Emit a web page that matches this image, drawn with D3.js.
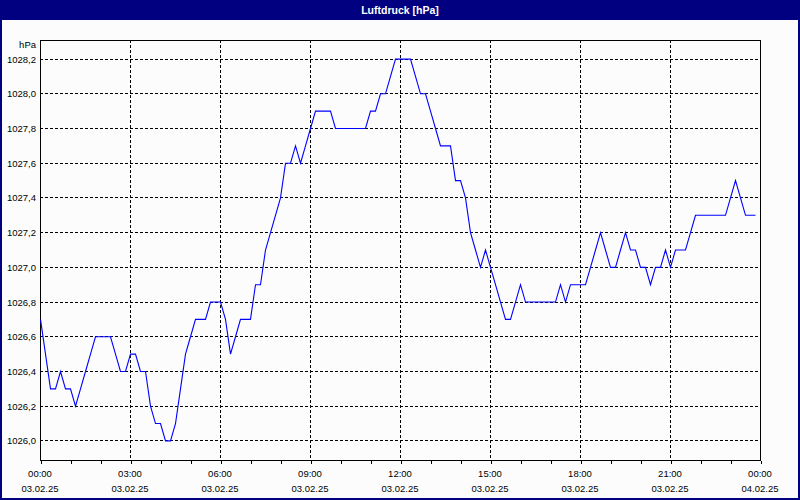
<!DOCTYPE html>
<html>
<head>
<meta charset="utf-8">
<script src="https://cdn.jsdelivr.net/npm/d3@7"></script>
<style>
  html, body { margin: 0; padding: 0; background: #fcfcfc; }
  svg { display: block; }
  text { font-family: "Liberation Sans", Arial, sans-serif; }
</style>
</head>
<body>
<svg id="chart" width="800" height="500"></svg>
<script>
// ---- data ----
const chartTitle = "Luftdruck [hPa]";
const unitLabel = "hPa";
const startTime = "2025-02-03T00:00:00";
const endTime = "2025-02-04T00:00:00";
const sampleMinutes = 10;
const pressure = [
  1026.7, 1026.5, 1026.3, 1026.3, 1026.4, 1026.3, 1026.3, 1026.2, 1026.3, 1026.4,
  1026.5, 1026.6, 1026.6, 1026.6, 1026.6, 1026.5, 1026.4, 1026.4, 1026.5, 1026.5,
  1026.4, 1026.4, 1026.2, 1026.1, 1026.1, 1026.0, 1026.0, 1026.1, 1026.3, 1026.5,
  1026.6, 1026.7, 1026.7, 1026.7, 1026.8, 1026.8, 1026.8, 1026.7, 1026.5, 1026.6,
  1026.7, 1026.7, 1026.7, 1026.9, 1026.9, 1027.1, 1027.2, 1027.3, 1027.4, 1027.6,
  1027.6, 1027.7, 1027.6, 1027.7, 1027.8, 1027.9, 1027.9, 1027.9, 1027.9, 1027.8,
  1027.8, 1027.8, 1027.8, 1027.8, 1027.8, 1027.8, 1027.9, 1027.9, 1028.0, 1028.0,
  1028.1, 1028.2, 1028.2, 1028.2, 1028.2, 1028.1, 1028.0, 1028.0, 1027.9, 1027.8,
  1027.7, 1027.7, 1027.7, 1027.5, 1027.5, 1027.4, 1027.2, 1027.1, 1027.0, 1027.1,
  1027.0, 1026.9, 1026.8, 1026.7, 1026.7, 1026.8, 1026.9, 1026.8, 1026.8, 1026.8,
  1026.8, 1026.8, 1026.8, 1026.8, 1026.9, 1026.8, 1026.9, 1026.9, 1026.9, 1026.9,
  1027.0, 1027.1, 1027.2, 1027.1, 1027.0, 1027.0, 1027.1, 1027.2, 1027.1, 1027.1,
  1027.0, 1027.0, 1026.9, 1027.0, 1027.0, 1027.1, 1027.0, 1027.1, 1027.1, 1027.1,
  1027.2, 1027.3, 1027.3, 1027.3, 1027.3, 1027.3, 1027.3, 1027.3, 1027.4, 1027.5,
  1027.4, 1027.3, 1027.3, 1027.3
];
const yTicks = [1026.0, 1026.2, 1026.4, 1026.6, 1026.8, 1027.0, 1027.2, 1027.4, 1027.6, 1027.8, 1028.0, 1028.2];
const yDomain = [1025.89, 1028.31];
const xTickHours = [0, 3, 6, 9, 12, 15, 18, 21, 24];

// ---- layout ----
const W = 800, H = 500;
const plot = { left: 40, top: 40, right: 760, bottom: 460 };
const svg = d3.select("#chart");

const t0 = new Date(startTime), t1 = new Date(endTime);
const x = d3.scaleTime().domain([t0, t1]).range([plot.left, plot.right]);
const y = d3.scaleLinear().domain(yDomain).range([plot.bottom, plot.top]);
const px = v => Math.round(v) + 0.5;

const data = pressure.map((v, i) => ({ t: d3.timeMinute.offset(t0, i * sampleMinutes), v }));

// window background & border
svg.append("rect").attr("x", 0).attr("y", 0).attr("width", W).attr("height", H).attr("fill", "#fcfcfc");
svg.append("rect").attr("x", 1).attr("y", 1).attr("width", W - 2).attr("height", H - 2)
  .attr("fill", "none").attr("stroke", "#000080").attr("stroke-width", 2);

// title bar
svg.append("rect").attr("x", 0).attr("y", 0).attr("width", W).attr("height", 20).attr("fill", "#000080");
svg.append("text").attr("x", W / 2).attr("y", 13.5).attr("text-anchor", "middle")
  .attr("fill", "#ffffff").attr("font-weight", "bold").attr("font-size", "10.5px").text(chartTitle);

// horizontal grid
const g = svg.append("g");
g.selectAll("line.hg").data(yTicks).enter().append("line")
  .attr("x1", plot.left).attr("x2", plot.right)
  .attr("y1", d => px(y(d) - 0.5)).attr("y2", d => px(y(d) - 0.5))
  .attr("stroke", "#000").attr("stroke-width", 1).attr("stroke-dasharray", "3,2")
  .attr("shape-rendering", "crispEdges");

// vertical grid
const vTimes = xTickHours.slice(1, -1).map(h => d3.timeHour.offset(t0, h));
g.selectAll("line.vg").data(vTimes).enter().append("line")
  .attr("y1", plot.top).attr("y2", plot.bottom)
  .attr("x1", d => px(x(d) - 0.5)).attr("x2", d => px(x(d) - 0.5))
  .attr("stroke", "#000").attr("stroke-width", 1).attr("stroke-dasharray", "3,2")
  .attr("shape-rendering", "crispEdges");

// frame
svg.append("rect").attr("x", plot.left + 0.5).attr("y", plot.top + 0.5)
  .attr("width", plot.right - plot.left).attr("height", plot.bottom - plot.top)
  .attr("fill", "none").attr("stroke", "#000").attr("stroke-width", 1)
  .attr("shape-rendering", "crispEdges");

// x axis: hourly ticks, labels every 3h
const xAxis = d3.axisBottom(x)
  .ticks(d3.timeHour.every(1))
  .tickSize(3)
  .tickFormat("");
const xa = svg.append("g").attr("transform", `translate(0.5,${plot.bottom + 0.5})`).call(xAxis);
xa.select(".domain").remove();
xa.selectAll("line").attr("stroke", "#000").attr("shape-rendering", "crispEdges");

const fmtTime = d3.timeFormat("%H:%M");
const fmtDate = d3.timeFormat("%d.%m.%y");
const labTimes = xTickHours.map(h => d3.timeHour.offset(t0, h));
const xl = svg.append("g");
xl.selectAll("text.t").data(labTimes).enter().append("text")
  .attr("x", d => x(d)).attr("y", 477).attr("text-anchor", "middle")
  .attr("font-size", "9.5px").attr("fill", "#000").text(fmtTime);
xl.selectAll("text.d").data(labTimes).enter().append("text")
  .attr("x", d => x(d)).attr("y", 492).attr("text-anchor", "middle")
  .attr("font-size", "9.5px").attr("fill", "#000").text(fmtDate);

// y labels
const fmtY = v => d3.format(".1f")(v).replace(".", ",");
svg.append("g").selectAll("text").data(yTicks).enter().append("text")
  .attr("x", 36).attr("y", d => y(d) + 3.5).attr("text-anchor", "end")
  .attr("font-size", "9.5px").attr("fill", "#000").text(fmtY);
svg.append("text").attr("x", 36).attr("y", 48).attr("text-anchor", "end")
  .attr("font-size", "9.5px").attr("fill", "#000").text(unitLabel);

// data line
const line = d3.line().x(d => x(d.t) + 0.5).y(d => y(d.v));
svg.append("path").datum(data).attr("d", line)
  .attr("fill", "none").attr("stroke", "#0000ff").attr("stroke-width", 1.1);
</script>
</body>
</html>
